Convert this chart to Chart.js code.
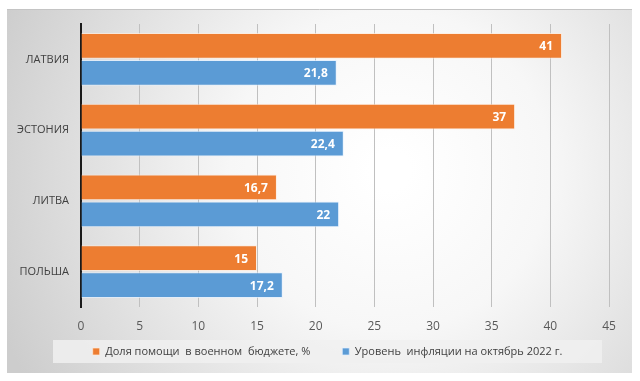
<!DOCTYPE html>
<html><head><meta charset="utf-8">
<script src="https://cdn.jsdelivr.net/npm/chart.js@4"></script>
<style>html,body{margin:0;padding:0;background:#fff}#wrap{width:640px;height:381px;position:relative}</style>
</head><body><div id="wrap"><canvas id="c" width="640" height="381"></canvas></div>
<script>
const categories = ['ЛАТВИЯ', 'ЭСТОНИЯ', 'ЛИТВА', 'ПОЛЬША'];
const seriesNames = ['Доля помощи  в военном  бюджете, %', 'Уровень  инфляции на октябрь 2022 г.'];
const aidShare = [41, 37, 16.7, 15];
const inflation = [21.8, 22.4, 22, 17.2];
const xTicks = [0, 5, 10, 15, 20, 25, 30, 35, 40, 45];

const FONT = '"Open Sans", "DejaVu Sans", sans-serif';

const bgPlugin = {
  id: 'bg',
  afterLayout(chart) {
    const lg = chart.legend;
    if (lg) {
      lg.top = 314; lg.bottom = 372; lg.height = 58;
      lg.left = 46; lg.right = 609; lg.width = 563;
    }
  },
  beforeDraw(chart) {
    const ctx = chart.ctx;
    ctx.save();
    ctx.fillStyle = '#ffffff';
    ctx.fillRect(0, 0, chart.width, chart.height);
    const g = ctx.createRadialGradient(390, 170, 20, 390, 170, 420);
    g.addColorStop(0, '#ffffff');
    g.addColorStop(0.35, '#f7f7f7');
    g.addColorStop(1, '#cdcdcd');
    ctx.fillStyle = g;
    ctx.fillRect(7, 9, 625, 364);
    ctx.strokeStyle = '#c4c4c4';
    ctx.lineWidth = 1;
    ctx.beginPath(); ctx.moveTo(7, 9.5); ctx.lineTo(632, 9.5); ctx.stroke();
    // legend background
    ctx.fillStyle = 'rgba(240,240,240,0.85)';
    ctx.fillRect(53, 340, 549, 23);
    ctx.restore();
  }
};

const labelPlugin = {
  id: 'vlabels',
  afterDatasetsDraw(chart) {
    const ctx = chart.ctx;
    ctx.save();
    ctx.font = 'bold 12px ' + FONT;
    ctx.fillStyle = '#ffffff';
    ctx.textAlign = 'right';
    ctx.textBaseline = 'middle';
    chart.data.datasets.forEach((ds, di) => {
      chart.getDatasetMeta(di).data.forEach((el, i) => {
        const txt = String(ds.data[i]).replace('.', ',');
        ctx.fillText(txt, el.x - 9, el.y + 1);
      });
    });
    ctx.restore();
  }
};

new Chart(document.getElementById('c'), {
  type: 'bar',
  data: {
    labels: categories,
    datasets: [
      { label: seriesNames[0], data: aidShare, backgroundColor: '#ED7D31', borderColor: 'rgba(255,235,220,0.7)', borderWidth: 1, barPercentage: 0.95, categoryPercentage: 0.765 },
      { label: seriesNames[1], data: inflation, backgroundColor: '#5B9BD5', borderColor: 'rgba(225,240,255,0.7)', borderWidth: 1, barPercentage: 0.95, categoryPercentage: 0.765 }
    ]
  },
  options: {
    indexAxis: 'y',
    responsive: false,
    animation: false,
    devicePixelRatio: 1,
    layout: { padding: { left: 0, right: 31, top: 24, bottom: 20 } },
    scales: {
      x: {
        min: 0, max: 45,
        afterBuildTicks(scale) { scale.ticks = xTicks.map(v => ({ value: v })); },
        ticks: { color: '#595959', font: { family: FONT, size: 12 }, padding: 12 },
        grid: { color: '#c0c0c0', lineWidth: 1, drawTicks: false },
        border: { display: false },
        afterFit(scale) { scale.height = 29; }
      },
      y: {
        ticks: { color: '#404040', font: { family: FONT, size: 11 }, padding: 12 },
        grid: { display: false, drawTicks: false },
        border: { display: true, color: '#1a1a1a', width: 2 },
        afterFit(scale) { scale.width = 81; }
      }
    },
    plugins: {
      legend: {
        position: 'bottom',
        maxHeight: 25,
        labels: { color: '#404040', font: { family: FONT, size: 11 }, boxWidth: 7, boxHeight: 7, padding: 32 }
      },
      tooltip: { enabled: false }
    }
  },
  plugins: [bgPlugin, labelPlugin]
});
</script></body></html>
